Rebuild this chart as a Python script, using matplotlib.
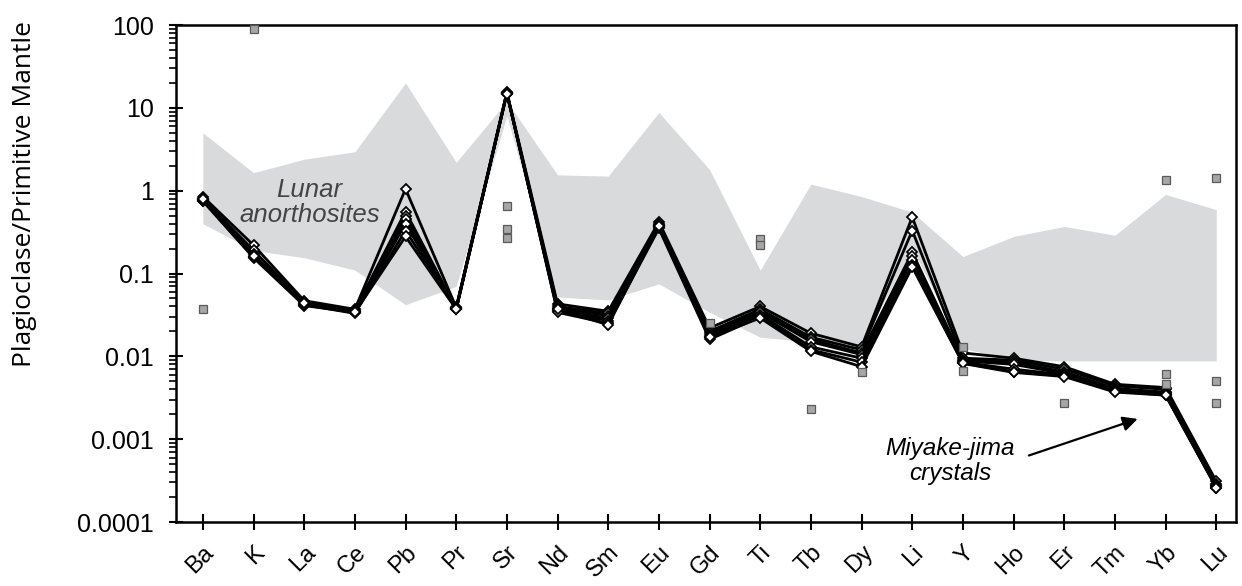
import matplotlib
matplotlib.use("Agg")
import matplotlib.pyplot as plt
from matplotlib.ticker import LogLocator, NullFormatter, FixedLocator
import numpy as np

elements = ["Ba", "K", "La", "Ce", "Pb", "Pr", "Sr", "Nd", "Sm", "Eu", "Gd",
            "Ti", "Tb", "Dy", "Li", "Y", "Ho", "Er", "Tm", "Yb", "Lu"]

# Lunar anorthosite field (upper / lower envelope)
lunar_upper = [5.0, 1.65, 2.4, 2.95, 20.0, 2.2, 12.0, 1.55, 1.5, 8.8, 1.8,
               0.11, 1.2, 0.85, 0.55, 0.16, 0.28, 0.37, 0.29, 0.9, 0.59]
lunar_lower = [0.4, 0.19, 0.155, 0.11, 0.042, 0.07, 8.0, 0.052, 0.048, 0.075, 0.034,
               0.017, 0.015, 0.014, 0.2, 0.0125, 0.009, 0.0088, 0.0088, 0.0088, 0.0088]

# Miyake-jima plagioclase crystals
crystal_a = [0.85, 0.22, 0.047, 0.037, 1.05, 0.039, 15.5, 0.043, 0.035, 0.42, 0.022,
             0.040, 0.019, 0.013, 0.48, 0.011, 0.0095, 0.0075, 0.0046, 0.0042, 0.00031]
crystal_b = [0.80, 0.19, 0.045, 0.036, 0.56, 0.038, 15.0, 0.040, 0.033, 0.40, 0.020,
             0.037, 0.017, 0.012, 0.33, 0.0095, 0.0090, 0.0070, 0.0044, 0.0040, 0.00029]
crystal_c = [0.78, 0.17, 0.043, 0.035, 0.50, 0.038, 15.2, 0.038, 0.031, 0.38, 0.019,
             0.035, 0.016, 0.011, 0.18, 0.0090, 0.0085, 0.0065, 0.0041, 0.0037, 0.00028]
crystal_d = [0.76, 0.16, 0.042, 0.034, 0.45, 0.037, 14.8, 0.036, 0.029, 0.37, 0.018,
             0.034, 0.015, 0.0105, 0.165, 0.0088, 0.0080, 0.0062, 0.0040, 0.0036, 0.00027]
crystal_e = [0.75, 0.155, 0.041, 0.034, 0.40, 0.037, 15.0, 0.035, 0.027, 0.36, 0.017,
             0.032, 0.013, 0.0095, 0.145, 0.0085, 0.0070, 0.0060, 0.0039, 0.0035, 0.00027]
crystal_f = [0.77, 0.16, 0.042, 0.033, 0.33, 0.038, 15.3, 0.034, 0.025, 0.35, 0.016,
             0.030, 0.012, 0.0085, 0.125, 0.0083, 0.0065, 0.0058, 0.0038, 0.0034, 0.00026]
crystal_g = [0.79, 0.165, 0.044, 0.034, 0.28, 0.037, 14.9, 0.037, 0.024, 0.37, 0.017,
             0.029, 0.0115, 0.0075, 0.12, 0.0082, 0.0064, 0.0057, 0.0037, 0.0034, 0.00026]
crystals = [crystal_a, crystal_b, crystal_c, crystal_d, crystal_e, crystal_f, crystal_g]

# Isolated analyses (element, value)
spot_elements = ["Ba", "K", "Sr", "Sr", "Sr", "Gd", "Ti", "Ti", "Tb", "Dy", "Y", "Y",
                 "Er", "Yb", "Yb", "Yb", "Lu", "Lu", "Lu"]
spot_values = [0.037, 90.0, 0.66, 0.34, 0.27, 0.025, 0.26, 0.22, 0.0023, 0.0065,
               0.013, 0.0066, 0.0027, 1.36, 0.0062, 0.0047, 1.44, 0.005, 0.0027]

x = np.arange(len(elements))

fig = plt.figure(figsize=(12.42, 5.86), dpi=100)
ax = fig.add_axes([0.1417, 0.1092, 0.8535, 0.8481])

ax.fill_between(x, lunar_lower, lunar_upper, color="#d9dadc", lw=0, zorder=1)

for vals in crystals:
    ax.plot(x, vals, color="black", lw=2.0, marker="D", ms=5.5,
            mfc="white", mec="black", mew=1.3, zorder=3)

spot_x = [elements.index(e) for e in spot_elements]
ax.plot(spot_x, spot_values, ls="none", marker="s", ms=6,
        mfc="#a6a6a6", mec="#5a5a5a", mew=0.9, zorder=4)

ax.set_yscale("log")
ax.set_ylim(1e-4, 100)
ax.set_xlim(-0.53, 20.39)

ax.set_yticks([1e-4, 1e-3, 1e-2, 1e-1, 1, 10, 100])
ax.set_yticklabels(["0.0001", "0.001", "0.01", "0.1", "1", "10", "100"],
                   family="Liberation Sans", fontsize=18)
ax.yaxis.set_minor_locator(LogLocator(base=10, subs=np.arange(2, 10), numticks=20))
ax.yaxis.set_minor_formatter(NullFormatter())

ax.xaxis.set_major_locator(FixedLocator(x))
ax.set_xticklabels(elements, rotation=45, ha="right", rotation_mode="anchor",
                   family="Liberation Sans", fontsize=17)

ax.tick_params(axis="y", which="major", direction="inout", length=10, width=1.5, pad=11)
ax.tick_params(axis="y", which="minor", direction="out", length=5, width=1.2)
ax.tick_params(axis="x", which="major", direction="inout", length=12, width=1.5, pad=8)

for side in ["left", "bottom", "top", "right"]:
    ax.spines[side].set_linewidth(1.8)

ax.set_ylabel("Plagioclase/Primitive Mantle", family="Open Sans", fontsize=19)
ax.yaxis.set_label_coords(-0.131, 0.66)

ax.text(2.1, 0.72, "Lunar\nanorthosites", style="italic", family="Liberation Sans",
        fontsize=18.5, color="#444444", ha="center", va="center", linespacing=1.05, zorder=2)
ax.text(14.75, 0.00055, "Miyake-jima\ncrystals", style="italic", family="Liberation Sans",
        fontsize=17.5, color="black", ha="center", va="center", linespacing=1.1, zorder=5)
ax.annotate("", xy=(18.5, 0.0018), xytext=(16.25, 0.00062),
            arrowprops=dict(arrowstyle="-|>", color="black", lw=1.6, mutation_scale=22),
            zorder=5)

fig.savefig("out.png", dpi=100)
